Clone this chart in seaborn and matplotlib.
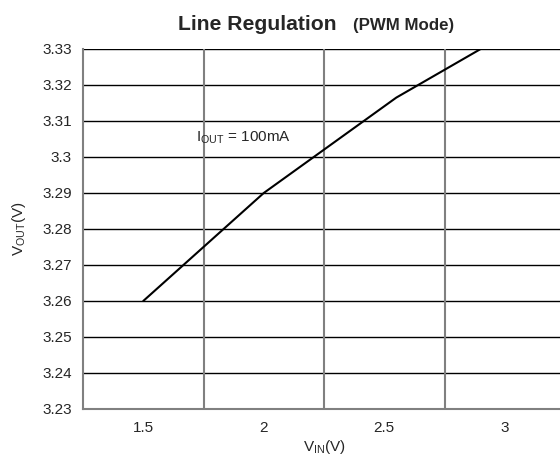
import matplotlib
matplotlib.use("Agg")
import matplotlib.pyplot as plt
import pandas as pd
import seaborn as sns

# dados
vin = [1.5, 2.0, 2.55, 2.9]
vout = [3.26, 3.29, 3.3165, 3.33]
x_ticks = [1.5, 2.0, 2.5, 3.0]
x_labels = ["1.5", "2", "2.5", "3"]
y_ticks = [3.23, 3.24, 3.25, 3.26, 3.27, 3.28, 3.29, 3.30, 3.31, 3.32, 3.33]
y_labels = ["3.23", "3.24", "3.25", "3.26", "3.27", "3.28", "3.29", "3.3", "3.31", "3.32", "3.33"]
x_grid = [1.75, 2.25, 2.75, 3.25]

df = pd.DataFrame({"vin": vin, "vout": vout})

sns.set_style("white")
plt.rcParams["font.family"] = ["Liberation Sans", "DejaVu Sans"]

fig = plt.figure(figsize=(5.6, 4.62), dpi=100)
ax = fig.add_axes([83 / 560, 1 - 409 / 462, (565 - 83) / 560, (409 - 49) / 462])

# grade: horizontais pretas, verticais cinza
for y in y_ticks:
    ax.axhline(y, color="black", lw=1.0, zorder=1)
for x in x_grid:
    ax.axvline(x, color="#808080", lw=1.5, zorder=1)

sns.lineplot(data=df, x="vin", y="vout", color="black", lw=1.5, ax=ax, zorder=3)

ax.set_xlim(1.25, 3.25)
ax.set_ylim(3.23, 3.33)
ax.set_xticks(x_ticks)
ax.set_xticklabels(x_labels)
ax.set_yticks(y_ticks)
ax.set_yticklabels(y_labels)
ax.tick_params(length=0, labelsize=11, pad=8)
ax.tick_params(axis="x", pad=9)

for s in ["top", "right"]:
    ax.spines[s].set_visible(False)
for s in ["left", "bottom"]:
    ax.spines[s].set_color("#808080")
    ax.spines[s].set_linewidth(1.5)

ax.set_xlabel(r"V$_{\mathregular{IN}}$(V)", fontsize=11, labelpad=2)
ax.set_ylabel(r"V$_{\mathregular{OUT}}$(V)", fontsize=11, labelpad=10)

ax.text(1.72, 3.3053, r"I$_{\mathregular{OUT}}$ = 100mA", fontsize=11, va="center", ha="left")

fig.text(337 / 560, 1 - 30 / 462, "Line Regulation", fontsize=15.2, fontweight="bold",
         ha="right", va="baseline")
fig.text(353 / 560, 1 - 30 / 462, "(PWM Mode)", fontsize=12.2, fontweight="bold",
         ha="left", va="baseline")

plt.savefig("out.png", dpi=100)
plt.close()
